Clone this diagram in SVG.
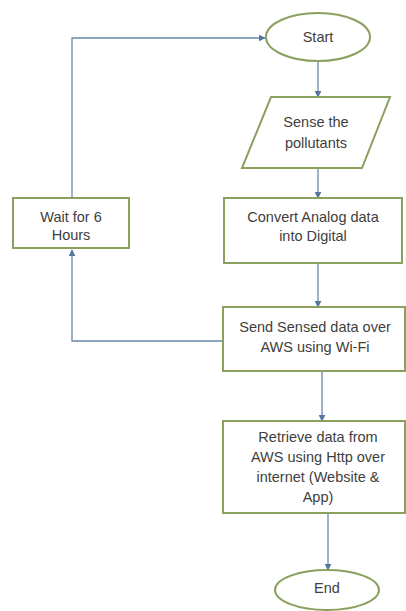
<svg xmlns="http://www.w3.org/2000/svg" width="406" height="611" viewBox="0 0 406 611">
<style>
.n{fill:#ffffff;stroke:#8aa05e;stroke-width:2}
.c{fill:none;stroke:#6a87ad;stroke-width:1.3}
text{font-family:"Liberation Sans",Arial,sans-serif;font-size:14.5px;fill:#404040;text-anchor:middle}
</style>
<defs>
<marker id="ah" viewBox="0 0 10 10" refX="9" refY="5" markerWidth="7" markerHeight="7" markerUnits="userSpaceOnUse" orient="auto">
<path d="M0,0 L10,5 L0,10 z" fill="#55779f"/>
</marker>
</defs>
<rect width="406" height="611" fill="#ffffff"/>
<g id="connectors">
<path class="c" d="M72,198 V38 H265" marker-end="url(#ah)"/>
<path class="c" d="M318,61 V97" marker-end="url(#ah)"/>
<path class="c" d="M318,168 V198" marker-end="url(#ah)"/>
<path class="c" d="M318,263 V307" marker-end="url(#ah)"/>
<path class="c" d="M223,341 H72 V250" marker-end="url(#ah)"/>
<path class="c" d="M322,371 V421" marker-end="url(#ah)"/>
<path class="c" d="M328,513 V570" marker-end="url(#ah)"/>
</g>
<g id="start">
<ellipse class="n" cx="318" cy="37" rx="52" ry="24"/>
<text x="318" y="42">Start</text>
</g>
<g id="sense">
<polygon class="n" points="271,97 390,97 362,168 242,168"/>
<text x="316" y="127">Sense the</text>
<text x="316" y="148">pollutants</text>
</g>
<g id="convert">
<rect class="n" x="224" y="198" width="178" height="65"/>
<text x="313" y="222">Convert Analog data</text>
<text x="313" y="241">into Digital</text>
</g>
<g id="wait">
<rect class="n" x="13" y="198" width="116" height="50"/>
<text x="71" y="222">Wait for 6</text>
<text x="71" y="240">Hours</text>
</g>
<g id="send">
<rect class="n" x="223" y="307" width="182" height="64"/>
<text x="315" y="332">Send Sensed data over</text>
<text x="315" y="352">AWS using Wi-Fi</text>
</g>
<g id="retrieve">
<rect class="n" x="223" y="421" width="182" height="92"/>
<text x="318" y="442">Retrieve data from</text>
<text x="318" y="462">AWS using Http over</text>
<text x="318" y="482">internet (Website &amp;</text>
<text x="318" y="502">App)</text>
</g>
<g id="end">
<ellipse class="n" cx="327" cy="590" rx="52" ry="20"/>
<text x="327" y="593">End</text>
</g>
</svg>
